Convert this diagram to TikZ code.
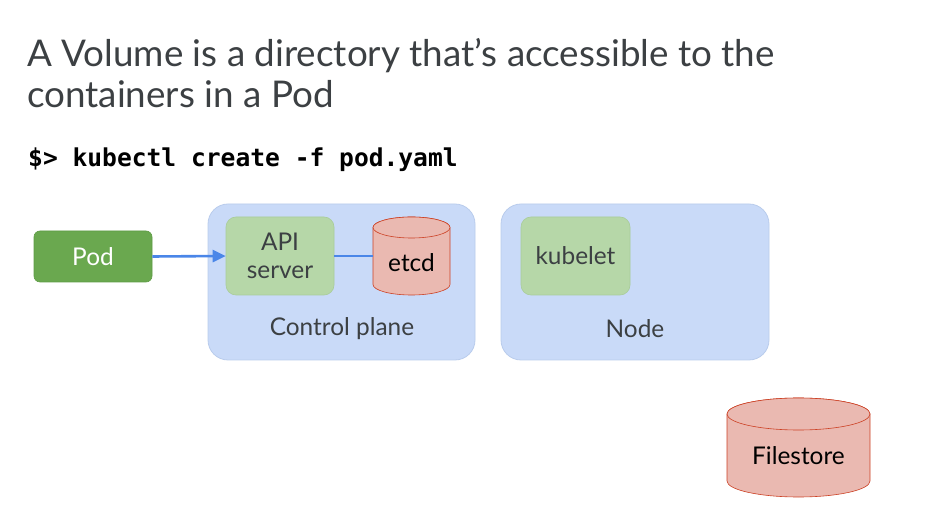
\documentclass[tikz,border=0pt]{standalone}
\usepackage{fontspec}
\setmainfont{Lato}
\setmonofont{DejaVu Sans Mono}
\usetikzlibrary{arrows.meta}
\definecolor{txtgray}{HTML}{3C4043}
\definecolor{podgreen}{HTML}{6AA84F}
\definecolor{podedge}{HTML}{5E9C45}
\definecolor{lightgreen}{HTML}{B6D7A8}
\definecolor{lgedge}{HTML}{A9CC9A}
\definecolor{lightblue}{HTML}{C9DAF8}
\definecolor{lbedge}{HTML}{B9CCEC}
\definecolor{cylfill}{HTML}{EAB9B1}
\definecolor{cyledge}{HTML}{CC4125}
\definecolor{arrowblue}{HTML}{4A86E8}
\tikzset{
  lbl/.style={font=\fontsize{24.4}{28}\selectfont, text=txtgray, align=center, inner sep=0pt},
  podbox/.style={fill=podgreen, draw=podedge, line width=0.6pt, rounded corners=6pt, text=white, font=\fontsize{24.4}{28}\selectfont},
  compbox/.style={fill=lightgreen, draw=lgedge, line width=0.6pt, rounded corners=10pt, lbl},
  groupbox/.style={fill=lightblue, draw=lbedge, line width=0.8pt, rounded corners=20pt},
  cylspace/.style={inner sep=0pt, draw=none},
  cyl/.style={fill=cylfill, draw=cyledge, line width=0.6pt},
  conn/.style={draw=arrowblue, line width=2.6pt},
}
\begin{document}
\begin{tikzpicture}[x=1pt,y=1pt]
\useasboundingbox[fill=white] (0,0) rectangle (928,527);
% title
\node[anchor=base west, inner sep=0pt, text=txtgray, font=\fontsize{36.8}{44}\selectfont] (title1) at (27,460) {A Volume is a directory that’s accessible to the};
\node[anchor=base west, inner sep=0pt, text=txtgray, font=\fontsize{36.8}{44}\selectfont] (title2) at (27,419) {containers in a Pod};
\node[anchor=base west, inner sep=0pt, font=\ttfamily\bfseries\fontsize{24.6}{28}\selectfont] (cmd) at (28,360) {\$> kubectl create -f pod.yaml};
% groups
\node[groupbox, minimum width=267pt, minimum height=156pt] (cp) at (341.5,245) {};
\node[groupbox, minimum width=268pt, minimum height=156pt] (nd) at (635,245) {};
\node[lbl] (cplbl) at (342,198) {Control plane};
\node[lbl] (ndlbl) at (635,198) {Node};
% components
\node[podbox, minimum width=118pt, minimum height=51pt] (pod) at (93,270.5) {Pod};
\node[compbox, minimum width=108pt, minimum height=78pt] (api) at (280,271) {API\\server};
\node[compbox, minimum width=109pt, minimum height=78pt] (kubelet) at (575.5,271) {kubelet};
% etcd cylinder
\node[cylspace, minimum width=77pt, minimum height=78pt] (etcd) at (411.5,271) {};
\draw[cyl] (373,299.5) -- (373,242.5) arc[start angle=180,end angle=360,x radius=38.5,y radius=10.5] -- (450,299.5) arc[start angle=0,end angle=180,x radius=38.5,y radius=10.5] -- cycle;
\draw[cyl] (411.5,299.5) ellipse[x radius=38.5,y radius=10.5];
\node[lbl, text=black] (etcdlbl) at (411.5,264) {etcd};
% filestore cylinder
\node[cylspace, minimum width=143pt, minimum height=99pt] (fs) at (798.5,79.5) {};
\draw[cyl] (727,113) -- (727,46) arc[start angle=180,end angle=360,x radius=71.5,y radius=16] -- (870,113) arc[start angle=0,end angle=180,x radius=71.5,y radius=16] -- cycle;
\draw[cyl] (798.5,113) ellipse[x radius=71.5,y radius=16];
\node[lbl, text=black] (fslbl) at (798.5,71) {Filestore};
% connectors
\draw[conn, -{Triangle[length=13pt,width=12pt]}] (pod.east) -- (api.west);
\draw[conn] (api.east) -- (etcd.west);
\end{tikzpicture}
\end{document}
